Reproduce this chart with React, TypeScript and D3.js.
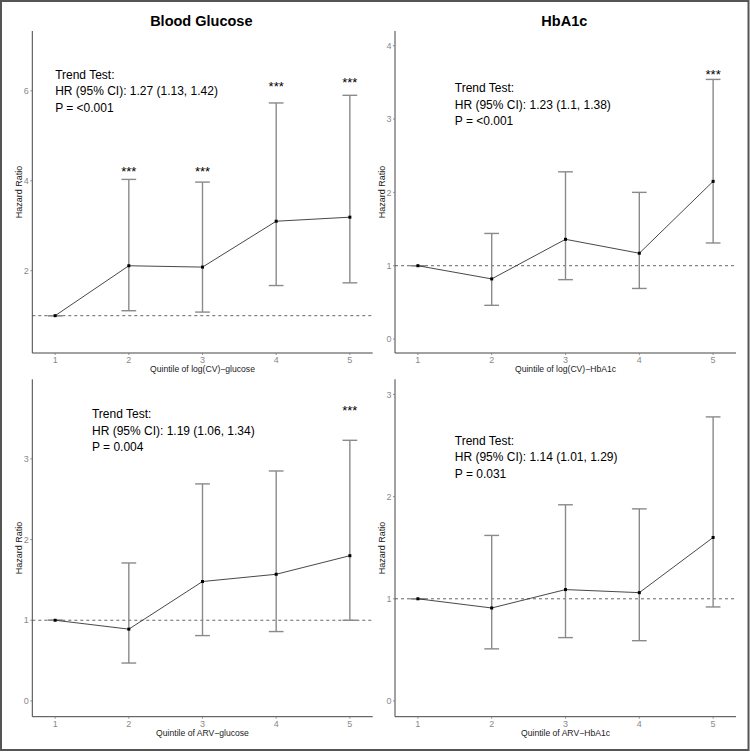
import React from "react";
import * as d3 from "d3";

// ---------- data ----------
const quintiles = [1, 2, 3, 4, 5];

const glucoseCvHR = [1, 2.11, 2.08, 3.1, 3.19];
const glucoseCvLower = [1, 1.11, 1.08, 1.67, 1.73];
const glucoseCvUpper = [1, 4.03, 3.97, 5.73, 5.9];
const glucoseCvStars = ["", "***", "***", "***", "***"];
const glucoseCvStarY = [0, 4.26, 4.26, 6.16, 6.26];

const hba1cCvHR = [1, 0.82, 1.36, 1.17, 2.15];
const hba1cCvLower = [1, 0.46, 0.81, 0.69, 1.31];
const hba1cCvUpper = [1, 1.44, 2.28, 2.0, 3.54];
const hba1cCvStars = ["", "", "", "", "***"];
const hba1cCvStarY = [0, 0, 0, 0, 3.65];

const glucoseArvHR = [1, 0.89, 1.48, 1.57, 1.8];
const glucoseArvLower = [1, 0.47, 0.81, 0.86, 1.0];
const glucoseArvUpper = [1, 1.71, 2.69, 2.85, 3.23];
const glucoseArvStars = ["", "", "", "", "***"];
const glucoseArvStarY = [0, 0, 0, 0, 3.64];

const hba1cArvHR = [1, 0.91, 1.09, 1.06, 1.6];
const hba1cArvLower = [1, 0.51, 0.62, 0.59, 0.92];
const hba1cArvUpper = [1, 1.62, 1.92, 1.88, 2.78];
const hba1cArvStars = ["", "", "", "", ""];
const hba1cArvStarY = [0, 0, 0, 0, 0];

const yTicksGlucoseCv = [2, 4, 6];
const yTicksHba1cCv = [0, 1, 2, 3, 4];
const yTicksGlucoseArv = [0, 1, 2, 3];
const yTicksHba1cArv = [0, 1, 2, 3];

const trendGlucoseCv = ["Trend Test:", "HR (95% CI): 1.27 (1.13, 1.42)", "P = <0.001"];
const trendHba1cCv = ["Trend Test:", "HR (95% CI): 1.23 (1.1, 1.38)", "P = <0.001"];
const trendGlucoseArv = ["Trend Test:", "HR (95% CI): 1.19 (1.06, 1.34)", "P = 0.004"];
const trendHba1cArv = ["Trend Test:", "HR (95% CI): 1.14 (1.01, 1.29)", "P = 0.031"];

const FONT = "'Liberation Sans', Arial, Helvetica, sans-serif";

type PanelProps = {
  hr: number[];
  lower: number[];
  upper: number[];
  stars: string[];
  starY: number[];
  yTicks: number[];
  yDomain: [number, number];
  xRange: [number, number];
  yRange: [number, number];
  xTitle: string;
  title?: string;
  trend: string[];
  trendAt: [number, number];
};

function Panel(p: PanelProps) {
  const x = d3.scaleLinear().domain([0.69, 5.31]).range(p.xRange);
  const y = d3.scaleLinear().domain(p.yDomain).range(p.yRange);
  const [x0, x1] = p.xRange;
  const [yb, yt] = p.yRange;
  const pts = quintiles.map((q, i) => [x(q), y(p.hr[i])] as [number, number]);
  const line = d3.line()(pts) || "";
  const capHalf = x(1.1) - x(1);
  const midX = (x0 + x1) / 2;
  const midY = (yb + yt) / 2;
  const trendY = y(p.trendAt[1]) + 4.3;
  return (
    <g>
      {p.title && (
        <text x={midX - 1.2} y={26} textAnchor="middle" fontSize={14.5} fontWeight="bold" fill="#000">
          {p.title}
        </text>
      )}
      {/* reference line */}
      <line x1={x0} x2={x1} y1={y(1)} y2={y(1)} stroke="#555" strokeWidth={0.9} strokeDasharray="3,3" />
      {/* error bars */}
      {quintiles.map((q, i) => (
        <g key={"eb" + i} stroke="#8a8a8a" strokeWidth={1.4}>
          <line x1={x(q)} x2={x(q)} y1={y(p.lower[i])} y2={y(p.upper[i])} />
          <line x1={x(q) - capHalf} x2={x(q) + capHalf} y1={y(p.lower[i])} y2={y(p.lower[i])} />
          <line x1={x(q) - capHalf} x2={x(q) + capHalf} y1={y(p.upper[i])} y2={y(p.upper[i])} />
        </g>
      ))}
      <path d={line} fill="none" stroke="#333" strokeWidth={0.9} />
      {pts.map((pt, i) => (
        <rect key={"pt" + i} x={pt[0] - 1.5} y={pt[1] - 1.5} width={3} height={3} fill="#000" />
      ))}
      {quintiles.map((q, i) =>
        p.stars[i] ? (
          <text key={"st" + i} x={x(q)} y={y(p.starY[i]) + 7.4} textAnchor="middle" fontSize={13} fill="#000">
            {p.stars[i]}
          </text>
        ) : null
      )}
      {/* axes */}
      <line x1={x0} x2={x0} y1={yt} y2={yb} stroke="#444" strokeWidth={1} />
      <line x1={x0} x2={x1} y1={yb} y2={yb} stroke="#444" strokeWidth={1} />
      {p.yTicks.map((t) => (
        <g key={"yt" + t}>
          <line x1={x0 - 2} x2={x0} y1={y(t)} y2={y(t)} stroke="#777" strokeWidth={0.8} />
          <text x={x0 - 3.5} y={y(t) + 3.2} textAnchor="end" fontSize={9} fill="#8a8a8a">
            {t}
          </text>
        </g>
      ))}
      {quintiles.map((q) => (
        <g key={"xt" + q}>
          <line x1={x(q)} x2={x(q)} y1={yb} y2={yb + 2} stroke="#777" strokeWidth={0.8} />
          <text x={x(q)} y={yb + 10} textAnchor="middle" fontSize={9} fill="#8a8a8a">
            {q}
          </text>
        </g>
      ))}
      <text x={x(3)} y={yb + 19} textAnchor="middle" fontSize={8.6} fill="#222">
        {p.xTitle}
      </text>
      <text
        transform={`translate(${x0 - 10},${midY}) rotate(-90)`}
        textAnchor="middle"
        fontSize={9}
        fill="#222"
      >
        Hazard Ratio
      </text>
      {p.trend.map((s, i) => (
        <text key={"tr" + i} x={x(p.trendAt[0])} y={trendY + (i - 1) * 16.5} fontSize={12} fill="#000">
          {s}
        </text>
      ))}
    </g>
  );
}

export default function App() {
  const leftX: [number, number] = [32.3, 372.7];
  const rightX: [number, number] = [395, 736];
  const topY: [number, number] = [353, 31];
  const botY: [number, number] = [716.7, 379.3];
  return (
    <svg
      width={750}
      height={752}
      style={{ position: "absolute", left: 0, top: 0, background: "#fff" }}
      fontFamily={FONT}
    >
      <rect x={0} y={0} width={750} height={752} fill="#fff" />
      <Panel
        hr={glucoseCvHR}
        lower={glucoseCvLower}
        upper={glucoseCvUpper}
        stars={glucoseCvStars}
        starY={glucoseCvStarY}
        yTicks={yTicksGlucoseCv}
        yDomain={[0.17, 7.33]}
        xRange={leftX}
        yRange={topY}
        xTitle="Quintile of log(CV)−glucose"
        title="Blood Glucose"
        trend={trendGlucoseCv}
        trendAt={[1, 6.0]}
      />
      <Panel
        hr={hba1cCvHR}
        lower={hba1cCvLower}
        upper={hba1cCvUpper}
        stars={hba1cCvStars}
        starY={hba1cCvStarY}
        yTicks={yTicksHba1cCv}
        yDomain={[-0.19, 4.2]}
        xRange={rightX}
        yRange={topY}
        xTitle="Quintile of log(CV)−HbA1c"
        title="HbA1c"
        trend={trendHba1cCv}
        trendAt={[1.5, 3.2]}
      />
      <Panel
        hr={glucoseArvHR}
        lower={glucoseArvLower}
        upper={glucoseArvUpper}
        stars={glucoseArvStars}
        starY={glucoseArvStarY}
        yTicks={yTicksGlucoseArv}
        yDomain={[-0.195, 3.986]}
        xRange={leftX}
        yRange={botY}
        xTitle="Quintile of ARV−glucose"
        trend={trendGlucoseArv}
        trendAt={[1.5, 3.35]}
      />
      <Panel
        hr={hba1cArvHR}
        lower={hba1cArvLower}
        upper={hba1cArvUpper}
        stars={hba1cArvStars}
        starY={hba1cArvStarY}
        yTicks={yTicksHba1cArv}
        yDomain={[-0.154, 3.148]}
        xRange={rightX}
        yRange={botY}
        xTitle="Quintile of ARV−HbA1c"
        trend={trendHba1cArv}
        trendAt={[1.5, 2.39]}
      />
      <rect x={1} y={1} width={747.5} height={749} fill="none" stroke="#555" strokeWidth={2} />
    </svg>
  );
}
